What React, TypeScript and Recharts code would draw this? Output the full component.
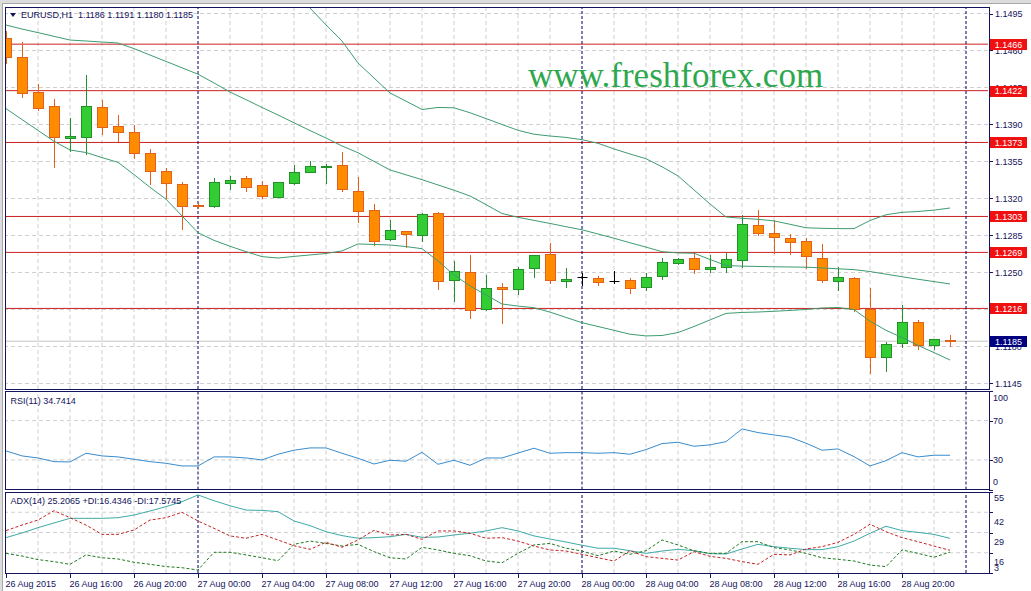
import React from 'react';
import { ComposedChart, Bar, Line, XAxis, YAxis, ReferenceLine } from 'recharts';

// ---------- data ----------
const timeLabels = ['26 Aug 2015', '26 Aug 16:00', '26 Aug 20:00', '27 Aug 00:00', '27 Aug 04:00', '27 Aug 08:00', '27 Aug 12:00', '27 Aug 16:00', '27 Aug 20:00', '28 Aug 00:00', '28 Aug 04:00', '28 Aug 08:00', '28 Aug 12:00', '28 Aug 16:00', '28 Aug 20:00'];
const timeTickIdx = [0, 4, 8, 12, 16, 20, 24, 28, 32, 36, 40, 44, 48, 52, 56];
const priceTicks = [1.1495, 1.146, 1.1425, 1.139, 1.1355, 1.132, 1.1285, 1.125, 1.1215, 1.118, 1.1145];
const levels = [1.1466, 1.1422, 1.1373, 1.1303, 1.1269, 1.1216];
const lastPrice = 1.1185;
const daySeparators = [12, 36, 60];
const rsiTicks = [0, 30, 70, 100];
const rsiGrid = [30, 70];
const adxTicks = [3, 16, 29, 42, 55];
const adxGrid = [16, 29, 42];

const openP = [1.14715, 1.14538, 1.14207, 1.14072, 1.13769, 1.13779, 1.14066, 1.13886, 1.13826, 1.13628, 1.13457, 1.13337, 1.13138, 1.13132, 1.13349, 1.13391, 1.13325, 1.13217, 1.13344, 1.13453, 1.13495, 1.13514, 1.13274, 1.13088, 1.12814, 1.1289, 1.12852, 1.1306, 1.12426, 1.12502, 1.12152, 1.12363, 1.12341, 1.1254, 1.12672, 1.12417, 1.12455, 1.12445, 1.12419, 1.12429, 1.1236, 1.1247, 1.12587, 1.12634, 1.12536, 1.12555, 1.12615, 1.12946, 1.12871, 1.12823, 1.12795, 1.1264, 1.12422, 1.12445, 1.12152, 1.11703, 1.1183, 1.12029, 1.11811, 1.1186];
const highP = [1.14784, 1.14678, 1.14283, 1.14141, 1.13961, 1.14368, 1.14132, 1.1399, 1.13892, 1.13668, 1.13486, 1.13359, 1.13157, 1.13391, 1.13413, 1.13413, 1.13363, 1.13356, 1.13517, 1.13552, 1.13526, 1.13637, 1.134, 1.13148, 1.12996, 1.12893, 1.1306, 1.13072, 1.12609, 1.12665, 1.12476, 1.12398, 1.12549, 1.12665, 1.12782, 1.12542, 1.12492, 1.12467, 1.12514, 1.12445, 1.12492, 1.12634, 1.12634, 1.12687, 1.12663, 1.12681, 1.13044, 1.13091, 1.12996, 1.12861, 1.12823, 1.1277, 1.12549, 1.12455, 1.1235, 1.11845, 1.12192, 1.1205, 1.11871, 1.1191];
const lowP = [1.14485, 1.14163, 1.14037, 1.13501, 1.13652, 1.13621, 1.1381, 1.13747, 1.13586, 1.13337, 1.13205, 1.12909, 1.1311, 1.13124, 1.1329, 1.13271, 1.13208, 1.1321, 1.13337, 1.13448, 1.13347, 1.13274, 1.1298, 1.1276, 1.12807, 1.12744, 1.12801, 1.12347, 1.12233, 1.12067, 1.12145, 1.12019, 1.12294, 1.12454, 1.12398, 1.12366, 1.12382, 1.12384, 1.12398, 1.12309, 1.12334, 1.12436, 1.12577, 1.12498, 1.12507, 1.12507, 1.12555, 1.12855, 1.12687, 1.12672, 1.1254, 1.12413, 1.12334, 1.12139, 1.11546, 1.11571, 1.11792, 1.11773, 1.11773, 1.118];
const closeP = [1.14541, 1.14195, 1.14059, 1.13779, 1.13791, 1.14072, 1.13873, 1.13832, 1.13633, 1.13463, 1.13344, 1.13129, 1.13129, 1.13359, 1.13372, 1.13312, 1.13226, 1.13353, 1.13448, 1.13505, 1.1351, 1.13287, 1.13082, 1.12801, 1.12899, 1.12861, 1.1305, 1.12417, 1.12514, 1.12142, 1.1235, 1.12347, 1.1253, 1.12663, 1.12426, 1.12436, 1.12455, 1.12407, 1.12419, 1.1235, 1.12455, 1.12596, 1.12628, 1.1253, 1.12552, 1.12625, 1.12956, 1.12876, 1.12839, 1.12786, 1.12659, 1.12429, 1.12455, 1.12152, 1.11698, 1.11821, 1.12034, 1.11814, 1.11868, 1.1185];

const bbUpper = [1.15633, 1.15661, 1.15695, 1.15728, 1.1574, 1.15745, 1.15774, 1.15801, 1.1581, 1.15809, 1.15802, 1.15839, 1.15876, 1.15782, 1.15667, 1.15573, 1.15473, 1.15343, 1.15182, 1.15002, 1.14842, 1.1469, 1.14482, 1.1434, 1.14198, 1.14121, 1.14042, 1.14061, 1.14058, 1.14011, 1.13956, 1.139, 1.13845, 1.13808, 1.13791, 1.13778, 1.13756, 1.13722, 1.13669, 1.13621, 1.13576, 1.135, 1.13414, 1.13281, 1.13148, 1.13025, 1.13013, 1.13003, 1.12988, 1.12956, 1.12923, 1.12918, 1.12915, 1.12915, 1.12992, 1.13046, 1.13069, 1.13077, 1.1309, 1.1311];
const bbMiddle = [1.14841, 1.14803, 1.14769, 1.14734, 1.14699, 1.1469, 1.1468, 1.14671, 1.14618, 1.14557, 1.14497, 1.14436, 1.14376, 1.14293, 1.14207, 1.14135, 1.14061, 1.1399, 1.13916, 1.13843, 1.13772, 1.13697, 1.13633, 1.13551, 1.1347, 1.13424, 1.13378, 1.13328, 1.13278, 1.13224, 1.13142, 1.13058, 1.13022, 1.12993, 1.12964, 1.12933, 1.12904, 1.12864, 1.12824, 1.12781, 1.1274, 1.12697, 1.12685, 1.12682, 1.12623, 1.12566, 1.1256, 1.12557, 1.12554, 1.12552, 1.1255, 1.12543, 1.12535, 1.12527, 1.12509, 1.12484, 1.1246, 1.12436, 1.12414, 1.12391];
const bbLower = [1.1405, 1.13947, 1.13844, 1.13741, 1.13659, 1.13635, 1.13587, 1.13542, 1.13426, 1.13306, 1.13193, 1.13035, 1.12877, 1.12804, 1.12748, 1.12697, 1.1265, 1.12637, 1.12652, 1.12666, 1.1268, 1.12704, 1.1277, 1.12765, 1.1276, 1.12745, 1.12725, 1.12609, 1.12477, 1.12373, 1.12287, 1.12202, 1.12182, 1.12167, 1.12125, 1.12075, 1.12025, 1.11989, 1.11953, 1.11916, 1.119, 1.11904, 1.11932, 1.11989, 1.12051, 1.12113, 1.12122, 1.12126, 1.12133, 1.12141, 1.1215, 1.12164, 1.12169, 1.12149, 1.1204, 1.11953, 1.11885, 1.1181, 1.11742, 1.11672];

const rsi11 = [39.2, 34.1, 32.0, 28.3, 28.0, 36.8, 34.1, 33.1, 30.7, 28.3, 26.6, 23.9, 23.9, 33.1, 33.1, 32.0, 30.0, 35.8, 39.9, 42.2, 42.2, 36.8, 31.7, 25.9, 29.7, 28.7, 37.8, 25.6, 29.7, 24.6, 32.0, 32.0, 37.0, 41.9, 36.8, 37.4, 37.4, 36.8, 37.4, 35.8, 40.5, 46.6, 48.0, 43.9, 45.3, 48.6, 61.5, 57.8, 55.4, 53.1, 47.0, 39.9, 41.2, 33.4, 23.9, 29.3, 37.4, 33.1, 34.8, 34.74];
const adx14 = [25.7, 28.7, 32.1, 35.1, 38.1, 38.1, 38.1, 38.5, 40.2, 42.8, 45.6, 48.8, 53.1, 49.4, 46.2, 43.4, 43.2, 42.4, 36.4, 33.4, 29.5, 27.0, 25.3, 25.7, 26.3, 27.8, 25.9, 26.1, 27.4, 28.5, 30.0, 32.1, 30.0, 26.8, 24.8, 22.9, 20.8, 18.9, 18.9, 17.3, 15.6, 17.1, 18.2, 17.3, 15.4, 15.2, 18.4, 21.4, 19.9, 18.9, 18.0, 18.0, 19.9, 23.5, 28.5, 33.0, 30.2, 29.1, 27.8, 25.21];
const minusDI = [30.2, 33.8, 37.0, 43.0, 38.5, 33.8, 27.8, 27.8, 30.6, 37.0, 38.5, 42.0, 36.4, 31.7, 26.8, 25.3, 27.8, 24.2, 20.5, 18.2, 22.7, 19.5, 24.2, 30.4, 27.4, 27.8, 24.6, 30.0, 30.0, 28.5, 25.3, 25.7, 23.5, 20.3, 17.8, 17.1, 15.0, 12.8, 10.7, 17.3, 13.5, 12.4, 11.3, 16.7, 13.7, 12.4, 10.3, 8.6, 15.0, 14.6, 18.4, 19.9, 22.7, 27.8, 34.3, 29.5, 25.7, 23.1, 20.3, 17.57];
const plusDI = [15.6, 13.9, 11.6, 10.3, 8.6, 14.6, 12.8, 12.0, 9.9, 8.6, 7.1, 6.4, 4.9, 16.3, 16.3, 14.6, 12.8, 10.9, 21.4, 23.5, 22.0, 20.3, 21.4, 16.7, 12.8, 12.0, 19.5, 17.8, 15.6, 14.1, 10.7, 9.6, 15.6, 21.0, 22.0, 18.9, 17.1, 14.1, 17.1, 15.0, 17.3, 24.2, 21.0, 17.3, 15.6, 15.6, 23.1, 23.1, 19.3, 17.8, 15.6, 12.8, 11.8, 10.7, 8.1, 7.1, 17.8, 15.6, 13.1, 16.43];

const data = openP.map((o, i) => ({
  i,
  open: o,
  high: highP[i],
  low: lowP[i],
  close: closeP[i],
  bbU: bbUpper[i],
  bbM: bbMiddle[i],
  bbL: bbLower[i],
  rsi: rsi11[i],
  adx: adx14[i],
  pdi: plusDI[i],
  mdi: minusDI[i],
}));

// ---------- layout / style ----------
const W = 1031;
const H = 591;
const xDomain: [number, number] = [-0.0625, 61.375];
const priceDomain: [number, number] = [1.113978, 1.150115];
const gridX: number[] = [];
for (let k = 2; k <= 58; k += 2) if (k !== 12 && k !== 36) gridX.push(k);

const FONT = '"Liberation Sans", Arial, sans-serif';
const NAVY = '#14145c';
const GRID = '#cfcfcf';
const RED = '#cc2020';
const BAND = '#3e9c70';

const mainMargin = { top: 7, right: 0, bottom: H - 389, left: 5 };
const mainMarginHidden = { top: 7, right: 43, bottom: H - 389, left: 5 };
const rsiMargin = { top: 391, right: 0, bottom: H - 489.5, left: 5 };
const rsiMarginHidden = { top: 391, right: 43, bottom: H - 489.5, left: 5 };
const adxMargin = { top: 492, right: 0, bottom: 0, left: 5 };
const adxMarginHidden = { top: 492, right: 43, bottom: 18, left: 5 };

const Candle = (props: any) => {
  const { x, y, width, height, payload } = props;
  if (!payload) return null;
  const { open, close, high, low } = payload;
  const top = Math.min(y, y + height);
  const h = Math.abs(height);
  const k = high > low ? h / (high - low) : 0;
  const py = (v: number) => top + (high - v) * k;
  const cx = Math.round(x + width / 2) + 0.5;
  const bull = close > open;
  const doji = close === open;
  const stroke = doji ? '#000000' : bull ? '#23902a' : '#e2621b';
  const fill = bull ? '#32cd32' : '#ff8c00';
  const yo = Math.round(py(open));
  const yc = Math.round(py(close));
  const bt = Math.min(yo, yc);
  const bb = Math.max(yo, yc);
  return (
    <g>
      <line x1={cx} x2={cx} y1={Math.round(top)} y2={Math.round(top + h) + 1} stroke={stroke} strokeWidth={1} />
      {doji ? (
        <line x1={cx - 5} x2={cx + 5} y1={yo + 0.5} y2={yo + 0.5} stroke={stroke} strokeWidth={1} />
      ) : (
        <rect x={cx - 5} y={bt + 0.5} width={10} height={Math.max(bb - bt, 1)} fill={fill} stroke={stroke} strokeWidth={1} />
      )}
    </g>
  );
};

const PriceTick = (props: any) => {
  const { y, payload } = props;
  return (
    <g>
      <line x1={989} x2={993} y1={Math.round(y) + 0.5} y2={Math.round(y) + 0.5} stroke={NAVY} />
      <text x={995} y={y + 3.3} fontFamily={FONT} fontSize={9} fill={NAVY}>
        {Number(payload.value).toFixed(4)}
      </text>
    </g>
  );
};

const LevelBox = (props: any) => {
  const { y, payload } = props;
  const v = Number(payload.value);
  const bg = v === lastPrice ? '#000080' : '#f01010';
  return (
    <g>
      <rect x={990} y={Math.round(y) - 5} width={37} height={11} fill={bg} />
      <text x={1008.5} y={y + 3.5} textAnchor="middle" fontFamily={FONT} fontSize={9} fill="#ffffff">
        {v.toFixed(4)}
      </text>
    </g>
  );
};

const RsiTick = (props: any) => {
  const { y, payload } = props;
  const ty = Math.min(Math.max(y, 398), 482);
  return (
    <g>
      <line x1={989} x2={993} y1={Math.round(y) + 0.5} y2={Math.round(y) + 0.5} stroke={NAVY} />
      <text x={993} y={ty + 3.3} fontFamily={FONT} fontSize={9} fill={NAVY}>
        {payload.value}
      </text>
    </g>
  );
};

const AdxTick = (props: any) => {
  const { y, payload } = props;
  const v = payload.value;
  const ty = v === 55 ? y + 6 : v === 3 ? y - 5.3 : y + 9.2;
  return (
    <g>
      <line x1={989} x2={993} y1={Math.round(y) + 0.5} y2={Math.round(y) + 0.5} stroke={NAVY} />
      <text x={994} y={ty + 3.3} fontFamily={FONT} fontSize={9} fill={NAVY}>
        {v}
      </text>
    </g>
  );
};

const TimeTick = (props: any) => {
  const { x, payload } = props;
  const idx = timeTickIdx.indexOf(payload.value);
  if (idx < 0) return null;
  const px = Math.round(x) + 0.5;
  return (
    <g>
      <line x1={px} x2={px} y1={573} y2={578} stroke={NAVY} />
      <text x={x - 0.5} y={587} fontFamily={FONT} fontSize={9} fill={NAVY}>
        {timeLabels[idx]}
      </text>
    </g>
  );
};

const layer: React.CSSProperties = { position: 'absolute', left: 0, top: 0 };

export default function App() {
  return (
    <div style={{ position: 'absolute', left: 0, top: 0, width: W, height: H, background: '#ffffff', overflow: 'hidden' }}>
      {/* ===== main price panel: grid / level lines / axis ===== */}
      <div style={layer}>
        <ComposedChart width={W} height={H} data={data} margin={mainMargin}>
          <XAxis type="number" dataKey="i" domain={xDomain} allowDataOverflow hide />
          <YAxis orientation="right" width={43} domain={priceDomain} allowDataOverflow ticks={priceTicks} interval={0} tick={PriceTick} tickLine={false} axisLine={false} />
          {gridX.map((v) => (
            <ReferenceLine key={'gx' + v} x={v} stroke={GRID} strokeDasharray="4 3" />
          ))}
          {priceTicks.map((v) => (
            <ReferenceLine key={'gy' + v} y={v} stroke={GRID} strokeDasharray="4 3" />
          ))}
          <ReferenceLine y={lastPrice} stroke="#c4c4c4" />
          {levels.map((v) => (
            <ReferenceLine key={'lv' + v} y={v} stroke={RED} />
          ))}
          {daySeparators.map((v) => (
            <ReferenceLine key={'ds' + v} x={v} stroke="#000060" strokeDasharray="3 2" />
          ))}
          <Line type="linear" dataKey="bbM" stroke="none" dot={false} isAnimationActive={false} />
        </ComposedChart>
      </div>

      {/* ===== main price panel: bands and candles ===== */}
      <div style={layer}>
        <ComposedChart width={W} height={H} data={data} margin={mainMarginHidden}>
          <XAxis type="number" dataKey="i" domain={xDomain} allowDataOverflow hide />
          <YAxis domain={priceDomain} allowDataOverflow hide />
          <Line type="linear" dataKey="bbU" stroke={BAND} strokeWidth={1} dot={false} isAnimationActive={false} />
          <Line type="linear" dataKey="bbM" stroke={BAND} strokeWidth={1} dot={false} isAnimationActive={false} />
          <Line type="linear" dataKey="bbL" stroke={BAND} strokeWidth={1} dot={false} isAnimationActive={false} />
          <Bar dataKey={(d: any) => [d.low, d.high]} barSize={11} shape={<Candle />} isAnimationActive={false} />
        </ComposedChart>
      </div>

      {/* ===== level price boxes ===== */}
      <div style={layer}>
        <ComposedChart width={W} height={H} data={data} margin={mainMargin}>
          <XAxis type="number" dataKey="i" domain={xDomain} allowDataOverflow hide />
          <YAxis orientation="right" width={43} domain={priceDomain} allowDataOverflow ticks={[...levels, lastPrice]} interval={0} tick={LevelBox} tickLine={false} axisLine={false} />
          <Line type="linear" dataKey="bbM" stroke="none" dot={false} isAnimationActive={false} />
        </ComposedChart>
      </div>

      {/* ===== RSI panel ===== */}
      <div style={layer}>
        <ComposedChart width={W} height={H} data={data} margin={rsiMargin}>
          <XAxis type="number" dataKey="i" domain={xDomain} allowDataOverflow hide />
          <YAxis orientation="right" width={43} domain={[0, 100]} allowDataOverflow ticks={rsiTicks} interval={0} tick={RsiTick} tickLine={false} axisLine={false} />
          {gridX.map((v) => (
            <ReferenceLine key={'rgx' + v} x={v} stroke={GRID} strokeDasharray="4 3" />
          ))}
          {rsiGrid.map((v) => (
            <ReferenceLine key={'rgy' + v} y={v} stroke={GRID} strokeDasharray="4 3" />
          ))}
          {daySeparators.map((v) => (
            <ReferenceLine key={'rds' + v} x={v} stroke="#000060" strokeDasharray="3 2" />
          ))}
          <Line type="linear" dataKey="rsi" stroke="none" dot={false} isAnimationActive={false} />
        </ComposedChart>
      </div>
      <div style={layer}>
        <ComposedChart width={W} height={H} data={data} margin={rsiMarginHidden}>
          <XAxis type="number" dataKey="i" domain={xDomain} allowDataOverflow hide />
          <YAxis domain={[0, 100]} allowDataOverflow hide />
          <Line type="linear" dataKey="rsi" stroke="#3a8ccc" strokeWidth={1} dot={false} isAnimationActive={false} />
        </ComposedChart>
      </div>

      {/* ===== ADX panel ===== */}
      <div style={layer}>
        <ComposedChart width={W} height={H} data={data} margin={adxMargin}>
          <XAxis type="number" dataKey="i" domain={xDomain} allowDataOverflow ticks={timeTickIdx} interval={0} height={18} tick={TimeTick} tickLine={false} axisLine={false} />
          <YAxis orientation="right" width={43} domain={[3, 55]} allowDataOverflow ticks={adxTicks} interval={0} tick={AdxTick} tickLine={false} axisLine={false} />
          {gridX.map((v) => (
            <ReferenceLine key={'agx' + v} x={v} stroke={GRID} strokeDasharray="4 3" />
          ))}
          {adxGrid.map((v) => (
            <ReferenceLine key={'agy' + v} y={v} stroke={GRID} strokeDasharray="4 3" />
          ))}
          {daySeparators.map((v) => (
            <ReferenceLine key={'ads' + v} x={v} stroke="#000060" strokeDasharray="3 2" />
          ))}
          <Line type="linear" dataKey="adx" stroke="none" dot={false} isAnimationActive={false} />
        </ComposedChart>
      </div>
      <div style={layer}>
        <ComposedChart width={W} height={H} data={data} margin={adxMarginHidden}>
          <XAxis type="number" dataKey="i" domain={xDomain} allowDataOverflow hide />
          <YAxis domain={[3, 55]} allowDataOverflow hide />
          <Line type="linear" dataKey="adx" stroke="#3eaaa8" strokeWidth={1} dot={false} isAnimationActive={false} />
          <Line type="linear" dataKey="pdi" stroke="#1f7a1f" strokeWidth={1} strokeDasharray="3 2" dot={false} isAnimationActive={false} />
          <Line type="linear" dataKey="mdi" stroke="#c42424" strokeWidth={1} strokeDasharray="3 2" dot={false} isAnimationActive={false} />
        </ComposedChart>
      </div>

      {/* ===== frame, borders, captions ===== */}
      <svg width={W} height={H} style={{ ...layer, pointerEvents: 'none' }}>
        <rect x={0} y={0} width={W} height={3} fill="#dcdcdc" />
        <line x1={0} x2={W} y1={3.5} y2={3.5} stroke="#a8a8a8" />
        <rect x={0} y={0} width={2} height={H} fill="#dcdcdc" />
        <line x1={2.5} x2={2.5} y1={3} y2={H} stroke="#a8a8a8" />
        <rect x={5.5} y={7.5} width={984} height={382} fill="none" stroke={NAVY} />
        <rect x={5.5} y={391.5} width={984} height={98} fill="none" stroke={NAVY} />
        <rect x={5.5} y={492.5} width={984} height={81} fill="none" stroke={NAVY} />
        <polygon points="10,13 16,13 13,17" fill={NAVY} />
        <text x={21} y={18.3} fontFamily={FONT} fontSize={9} fill={NAVY} style={{ whiteSpace: 'pre' }}>
          {'EURUSD,H1  1.1186 1.1191 1.1180 1.1185'}
        </text>
        <text x={10.5} y={403.5} fontFamily={FONT} fontSize={9} fill={NAVY}>
          RSI(11) 34.7414
        </text>
        <text x={10.5} y={504} fontFamily={FONT} fontSize={9} fill={NAVY}>
          ADX(14) 25.2065 +DI:16.4346 -DI:17.5745
        </text>
        <text x={528} y={87} fontFamily={'"Liberation Serif", "Times New Roman", serif'} fontSize={35} fill="#2ea84e">
          www.freshforex.com
        </text>
      </svg>
    </div>
  );
}
